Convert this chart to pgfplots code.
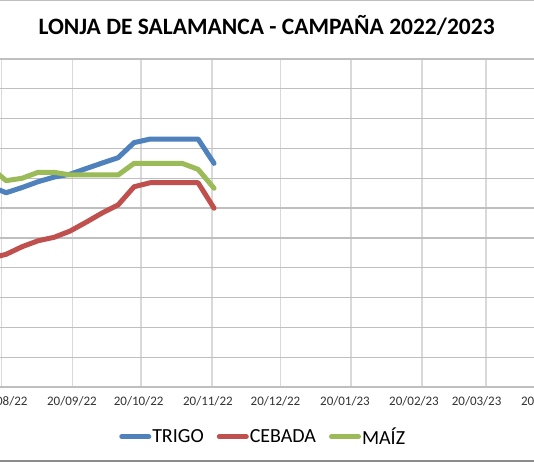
\documentclass[border=0pt]{standalone}
\usepackage{fontspec}
\setmainfont{Carlito}
\usepackage{pgfplots}
\pgfplotsset{compat=1.18}

\definecolor{trigo}{HTML}{4F81BD}
\definecolor{cebada}{HTML}{C0504D}
\definecolor{maiz}{HTML}{9BBB59}
\definecolor{gridh}{HTML}{BFBFBF}
\definecolor{gridv}{HTML}{D9D9D9}

% x = days since 20/08/22, y = EUR/t
\begin{document}
\begin{tikzpicture}[x=1pt,y=1pt]
\useasboundingbox (0,0) rectangle (534,462);
\clip (0,0) rectangle (534,462);
\fill[white] (0,0) rectangle (534,462);
\begin{axis}[
  scale only axis,
  width=662.65pt, height=328pt,
  at={(572.8pt,75pt)}, anchor=south east,
  xmin=-40, xmax=250,
  ymin=180, ymax=400,
  xtick={-31,0,31,61,92,122,153,184,212,243},
  xticklabels={},
  extra x ticks={0.5,30.8,60,90.3,119.9,150.3,180.5,207.9,238.2},
  extra x tick labels={20/08/22,20/09/22,20/10/22,20/11/22,20/12/22,20/01/23,20/02/23,20/03/23,20/04/23},
  extra x tick style={grid=none, major tick length=0pt,
    xticklabel style={font=\fontsize{13}{15}\selectfont, text=black!80, yshift=-6pt}},
  ytick={180,200,...,400},
  yticklabels={},
  major tick length=0pt,
  xmajorgrids, ymajorgrids,
  x grid style={gridv, line width=1.5pt},
  y grid style={gridh, line width=1.2pt},
  axis line style={gridh, line width=1.2pt},
  legend columns=3,
  legend style={draw=none, fill=none,
    at={(0.532,-0.1515)}, anchor=center,
    font=\fontsize{20}{22}\selectfont,
    /tikz/every even column/.append style={column sep=12pt},
    nodes={inner xsep=1pt}},
  legend image code/.code={\draw[#1, line cap=round] (0pt,0pt) -- (27pt,0pt);},
  every axis plot/.append style={line width=5pt, line join=round, line cap=round},
]
\addplot[trigo] coordinates {
(-5,314.6) (2,310.3) (9,313.8) (16,317.7) (23,320.8) (30,322.7) (37,326.5)
(44,330.2) (51,333.8) (58,343.9) (65,346.3) (72,346.3) (79,346.3) (86,346.3) (93,330.0)
};
\addlegendentry{TRIGO}
\addplot[cebada] coordinates {
(-5,266.3) (2,269.0) (9,274.1) (16,278.1) (23,280.4) (30,284.6) (37,290.5)
(44,296.7) (51,302.1) (58,314.3) (65,317.0) (72,317.0) (79,317.0) (86,317.0) (93,299.9)
};
\addlegendentry{CEBADA}
\addplot[maiz] coordinates {
(-5,327.4) (2,318.4) (9,320.0) (16,324.0) (23,324.0) (30,322.2) (37,322.2)
(44,322.2) (51,322.2) (58,330.0) (65,330.0) (72,330.0) (79,330.0) (86,326.0) (93,313.3)
};
\addlegendentry{MAÍZ}
\end{axis}
\node[font=\bfseries\fontsize{23.5}{27}\selectfont] at (266.6,437) {LONJA DE SALAMANCA - CAMPAÑA 2022/2023};
\draw[gray!50, line width=1pt] (0,461.5) -- (534,461.5);
\draw[gray!90, line width=2pt] (0,1.5) -- (534,1.5);
\end{tikzpicture}
\end{document}
